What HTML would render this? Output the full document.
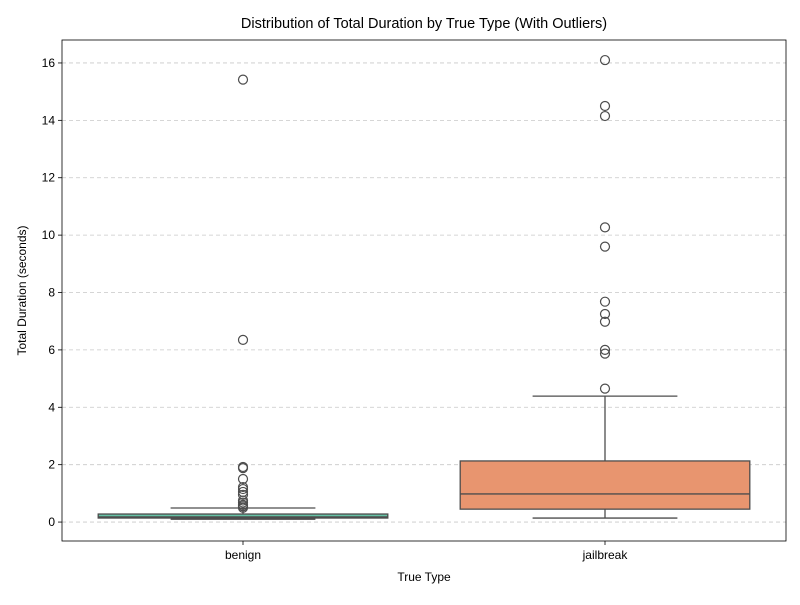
<!DOCTYPE html>
<html><head><meta charset="utf-8"><style>body{margin:0;background:#fff}svg{font-family:"Liberation Sans","DejaVu Sans",sans-serif}</style></head>
<body>
<svg id="chart" width="800" height="600"></svg>
<script>
const categories = ["benign","jailbreak"];
const q1 = [0.14, 0.45];
const median = [0.18, 0.98];
const q3 = [0.28, 2.13];
const whiskerLow = [0.10, 0.14];
const whiskerHigh = [0.49, 4.39];
const outliersBenign = [15.42, 6.35, 1.92, 1.88, 1.5, 1.22, 1.15, 1.05, 0.95, 0.75, 0.68, 0.6, 0.55, 0.5];
const outliersJailbreak = [16.1, 14.5, 14.15, 10.27, 9.6, 7.68, 7.25, 6.98, 6.0, 5.87, 4.65];
const yTicks = [0,2,4,6,8,10,12,14,16];
const colors = ["#66c2a5","#e8956f"];

const NS="http://www.w3.org/2000/svg";
const svg=document.getElementById('chart');
const L=62,R=786,T=40,B=541;
const yMin=-0.66,yMax=16.8;
const y=v=>B-(v-yMin)/(yMax-yMin)*(B-T);
const band=(R-L)/categories.length;
const xc=i=>L+band*(i+0.5);
function mk(tag,attrs,parent){const e=document.createElementNS(NS,tag);for(const k in attrs)e.setAttribute(k,attrs[k]);(parent||svg).appendChild(e);return e;}

yTicks.forEach(t=>{
  const g=mk('line',{x1:L,x2:R,y1:y(t),y2:y(t),stroke:'#c8c8c8','stroke-dasharray':'4,3','stroke-width':0.8});
  
  
  mk('line',{x1:L-4,x2:L,y1:y(t),y2:y(t),stroke:'#000','stroke-width':0.8});
  const tx=mk('text',{x:L-7,y:y(t)+4,'text-anchor':'end','font-size':12});
  tx.textContent=t;
  
  
});

const outs=[outliersBenign,outliersJailbreak];
categories.forEach((c,i)=>{
  const cx=xc(i),hw=band*0.4,cw=band*0.2;
  const g=mk('g',{});
  
  
  const st={stroke:'#4d4d4d','stroke-width':1.3,fill:'none'};
  mk('line',Object.assign({x1:cx,x2:cx,y1:y(q3[i]),y2:y(whiskerHigh[i])},st),g);
  mk('line',Object.assign({x1:cx,x2:cx,y1:y(q1[i]),y2:y(whiskerLow[i])},st),g);
  mk('line',Object.assign({x1:cx-cw,x2:cx+cw,y1:y(whiskerHigh[i]),y2:y(whiskerHigh[i])},st),g);
  mk('line',Object.assign({x1:cx-cw,x2:cx+cw,y1:y(whiskerLow[i]),y2:y(whiskerLow[i])},st),g);
  mk('rect',{x:cx-hw,y:y(q3[i]),width:2*hw,height:Math.max(1,y(q1[i])-y(q3[i])),fill:colors[i],stroke:'#4d4d4d','stroke-width':1.3},g);
  mk('line',Object.assign({x1:cx-hw,x2:cx+hw,y1:y(median[i]),y2:y(median[i])},st),g);
  outs[i].forEach(v=>{
    const p=mk('circle',{cx:cx,cy:y(v),r:4.5,fill:'none',stroke:'#4d4d4d','stroke-width':1.2});
    
    
  });
  mk('line',{x1:cx,x2:cx,y1:B,y2:B+4,stroke:'#000','stroke-width':0.8});
  const tx=mk('text',{x:cx,y:B+18,'text-anchor':'middle','font-size':12});
  tx.textContent=c;
  
  
});

const fr=mk('rect',{x:L,y:T,width:R-L,height:B-T,fill:'none',stroke:'#000','stroke-width':0.8});


const ti=mk('text',{x:(L+R)/2,y:28,'text-anchor':'middle','font-size':14.5});
ti.textContent='Distribution of Total Duration by True Type (With Outliers)';


const xt=mk('text',{x:(L+R)/2,y:581,'text-anchor':'middle','font-size':12});
xt.textContent='True Type';


const yt=mk('text',{x:26,y:(T+B)/2,'text-anchor':'middle','font-size':12,transform:'rotate(-90 26 '+((T+B)/2)+')'});
yt.textContent='Total Duration (seconds)';


</script>
</body></html>
